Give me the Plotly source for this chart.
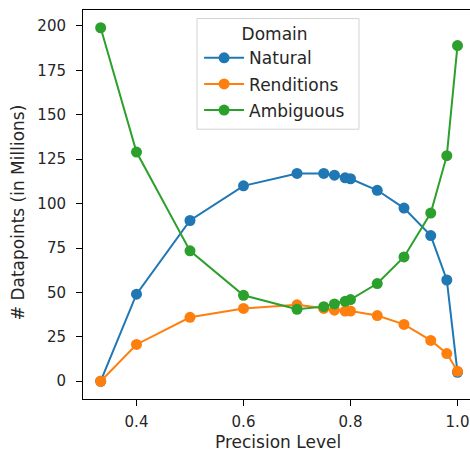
import plotly.graph_objects as go

precision = [0.333, 0.4, 0.5, 0.6, 0.7, 0.75, 0.77, 0.79, 0.8, 0.85, 0.9, 0.95, 0.98, 1.0]
natural = [0, 49, 90.5, 110, 117, 117, 116, 114.5, 114, 107.5, 97.5, 82, 57, 5]
renditions = [0, 20.7, 36, 41, 43, 41, 40, 39.5, 39.5, 37, 32, 23, 15.6, 5.6]
ambiguous = [199, 129, 73.4, 48.4, 40.5, 42, 43.5, 45, 46, 55, 70, 94.7, 127, 189]

series_names = ["Natural", "Renditions", "Ambiguous"]
series_values = [natural, renditions, ambiguous]
colors = ["#1f77b4", "#ff7f0e", "#2ca02c"]

x_ticks = [0.4, 0.6, 0.8, 1.0]
y_ticks = [0, 25, 50, 75, 100, 125, 150, 175, 200]

FONT = "DejaVu Sans"
TXT = "#262626"
FS_TICK = 15
FS_LBL = 17

fig = go.Figure()
for name, vals, c in zip(series_names, series_values, colors):
    fig.add_trace(go.Scatter(
        x=precision, y=vals, name=name, mode="lines+markers", legendgroup=name,
        line=dict(color=c, width=2),
        marker=dict(color=c, size=11),
    ))

fig.update_layout(
    width=470, height=450,
    margin=dict(l=83, r=0, t=10, b=51),
    paper_bgcolor="white", plot_bgcolor="white",
    font=dict(family=FONT, size=FS_TICK, color=TXT),
    showlegend=True,
    legend=dict(
        title=dict(text="Domain", side="top center", font=dict(size=FS_LBL, family=FONT, color=TXT)),
        x=0.3, y=0.979, xanchor="left", yanchor="top",
        bgcolor="rgba(0,0,0,0)", borderwidth=0,
        font=dict(size=FS_LBL, family=FONT, color=TXT),
        itemwidth=40, tracegroupgap=1, traceorder="grouped",
    ),
    shapes=[
        dict(type="rect", xref="paper", yref="paper", layer="above",
             x0=0.2946, x1=0.7132, y0=0.6936, y1=0.978,
             fillcolor="rgba(255,255,255,0.8)", line=dict(color="#d3d3d3", width=1)),
    ],
    xaxis=dict(
        range=[0.3, 0.3 + 387 / 535], tickvals=x_ticks, ticktext=["0.4", "0.6", "0.8", "1.0"],
        showgrid=False, zeroline=False, showline=True, linecolor="black", linewidth=1,
        mirror=True, ticks="outside", ticklen=6, tickcolor="black", tickwidth=1,
        ticklabelstandoff=3, automargin=False,
    ),
    yaxis=dict(
        range=[-10, 209], tickvals=y_ticks,
        showgrid=False, zeroline=False, showline=True, linecolor="black", linewidth=1,
        mirror=False, ticks="outside", ticklen=6, tickcolor="black", tickwidth=1,
        ticklabelstandoff=7, automargin=False,
    ),
    annotations=[
        dict(text="Precision Level", xref="paper", yref="paper", x=0.503, y=-0.11,
             xanchor="center", yanchor="middle", showarrow=False,
             font=dict(size=FS_LBL, family=FONT, color=TXT)),
        dict(text="# Datapoints (in Millions)", xref="paper", yref="paper", x=-0.168, y=0.48,
             xanchor="center", yanchor="middle", showarrow=False, textangle=-90,
             font=dict(size=FS_LBL, family=FONT, color=TXT)),
    ],
)

fig.write_html(
    "out.html",
    config={"displayModeBar": False},
    post_script="document.body.style.margin='0';document.body.style.overflow='hidden';",
)
